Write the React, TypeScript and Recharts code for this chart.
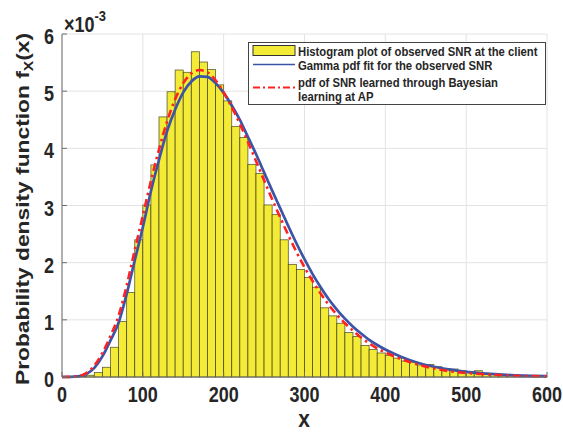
import React from "react";
import { Bar, CartesianGrid, ComposedChart, Legend, Line, XAxis, YAxis } from "recharts";

// histogram of observed SNR, bin width 10, values in units of 1e-3
const binCenters = [
  5, 15, 25, 35, 45, 55, 65, 75, 85, 95,
  105, 115, 125, 135, 145, 155, 165, 175, 185, 195,
  205, 215, 225, 235, 245, 255, 265, 275, 285, 295,
  305, 315, 325, 335, 345, 355, 365, 375, 385, 395,
  405, 415, 425, 435, 445, 455, 465, 475, 485, 495,
  505, 515, 525, 535, 545, 555, 565, 575, 585, 595,
];
const histDensity = [
  0, 0, 0.01, 0.03, 0.08, 0.17, 0.52, 0.97, 1.48, 2.4,
  3.01, 3.71, 4.55, 4.99, 5.37, 5.33, 5.69, 5.51, 5.38, 5.11,
  4.83, 4.38, 4.19, 3.72, 3.56, 3.01, 2.84, 2.4, 1.97, 1.88,
  1.74, 1.57, 1.21, 1.07, 0.94, 0.78, 0.71, 0.55, 0.48, 0.42,
  0.38, 0.33, 0.28, 0.26, 0.21, 0.22, 0.18, 0.15, 0.14, 0.11,
  0.08, 0.11, 0.06, 0.05, 0.04, 0.04, 0.03, 0.02, 0.02, 0.01,
];

const curveX = [
  0, 10, 20, 30, 40, 50, 60, 70, 80, 90,
  100, 110, 120, 130, 140, 150, 160, 170, 180, 190,
  200, 210, 220, 230, 240, 250, 260, 270, 280, 290,
  300, 310, 320, 330, 340, 350, 360, 370, 380, 390,
  400, 420, 440, 460, 480, 500, 520, 540, 560, 580, 600,
];
const gammaFit = [
  0, 0.002, 0.01, 0.05, 0.16, 0.36, 0.64, 0.95, 1.45, 2.04,
  2.62, 3.25, 3.8, 4.3, 4.68, 4.98, 5.17, 5.26, 5.25, 5.14,
  4.97, 4.75, 4.5, 4.2, 3.9, 3.58, 3.26, 2.95, 2.64, 2.34,
  2.06, 1.8, 1.57, 1.36, 1.18, 1.02, 0.88, 0.76, 0.65, 0.56,
  0.48, 0.35, 0.25, 0.18, 0.13, 0.09, 0.065, 0.045, 0.03, 0.02, 0.015,
];
const bayesPdf = [
  0, 0.003, 0.015, 0.07, 0.2, 0.42, 0.72, 1.07, 1.6, 2.22,
  2.82, 3.43, 3.98, 4.47, 4.86, 5.14, 5.31, 5.37, 5.33, 5.19,
  4.98, 4.72, 4.43, 4.11, 3.78, 3.44, 3.11, 2.79, 2.48, 2.19,
  1.92, 1.68, 1.46, 1.26, 1.09, 0.94, 0.81, 0.69, 0.59, 0.5,
  0.43, 0.31, 0.22, 0.15, 0.1, 0.07, 0.05, 0.035, 0.022, 0.015, 0.01,
];

const xTicks = [0, 100, 200, 300, 400, 500, 600];
const yTicks = [0, 1, 2, 3, 4, 5, 6];

const legendLabels = [
  "Histogram plot of observed SNR at the client",
  "Gamma pdf fit for the observed SNR",
  "pdf of SNR learned through Bayesian",
  "learning at AP",
];

const histRows = binCenters.map((x, i) => ({ x, h: histDensity[i] }));
const gammaRows = curveX.map((x, i) => ({ x, y: gammaFit[i] }));
const bayesRows = curveX.map((x, i) => ({ x, y: bayesPdf[i] }));

const FONT = "'Liberation Sans', Arial, sans-serif";
const AXIS = "#6f6f6f";
const INK = "#262626";
const YELLOW = "#f3eb35";
const BLUE = "#3b54a6";
const RED = "#ff2222";
const BIN_PX = 485 / 60; // plot width / number of bins

const txt = { fontFamily: FONT, fontWeight: 700, fill: INK } as const;

function HistBar(p: any) {
  if (!p.height) return null;
  const cx = p.x + p.width / 2;
  return (
    <rect
      x={cx - BIN_PX / 2}
      y={p.y}
      width={BIN_PX}
      height={p.height}
      fill={YELLOW}
      stroke="#2b2b14"
      strokeOpacity={0.75}
      strokeWidth={0.8}
    />
  );
}

function XTick(p: any) {
  return (
    <g transform={`translate(${p.x},402) scale(1,1.18)`}>
      <text x={0} y={0} textAnchor="middle" fontSize={18} style={txt}>
        {p.payload.value}
      </text>
    </g>
  );
}

function YTick(p: any) {
  return (
    <g transform={`translate(54,${p.y + 10}) scale(1,1.18)`}>
      <text x={0} y={0} textAnchor="end" fontSize={18} style={txt}>
        {p.payload.value}
      </text>
    </g>
  );
}

function XLabel() {
  return (
    <g>
      <g transform="translate(304,427) scale(1,1.18)">
        <text x={0} y={0} textAnchor="middle" fontSize={21} style={txt}>
          x
        </text>
      </g>
      <g transform="translate(64,32) scale(1,1.18)">
        <text x={0} y={0} fontSize={18} style={txt}>
          ×10
          <tspan fontSize={13} dy={-9}>-3</tspan>
        </text>
      </g>
    </g>
  );
}

function YLabel() {
  return (
    <g transform="translate(29,209) scale(1,1.2) rotate(-90)">
      <text x={0} y={0} textAnchor="middle" fontSize={19} style={txt}>
        Probability density function f
        <tspan fontSize={13} dy={4}>X</tspan>
        <tspan dy={-4}>(x)</tspan>
      </text>
    </g>
  );
}

function LegendBox() {
  const rows = [14, 28, 45, 59];
  return (
    <svg width={298} height={63} style={{ display: "block" }}>
      <rect x={0.5} y={0.5} width={297} height={62} fill="#fff" stroke="#444" />
      <rect x={5} y={3.5} width={42} height={10} fill={YELLOW} stroke="#333" />
      <line x1={5} x2={47} y1={22.5} y2={22.5} stroke={BLUE} strokeWidth={1.5} />
      <line x1={5} x2={47} y1={45.5} y2={45.5} stroke={RED} strokeWidth={2} strokeDasharray="7 3 2 3" />
      {legendLabels.map((s, i) => (
        <g key={s} transform={`translate(50,${rows[i]}) scale(1,1.15)`}>
          <text x={0} y={0} fontSize={11.3} style={txt}>
            {s}
          </text>
        </g>
      ))}
    </svg>
  );
}

export default function App() {
  return (
    <div style={{ position: "absolute", left: 0, top: 0, width: 563, height: 437, background: "#fff" }}>
      <ComposedChart
        width={563}
        height={437}
        data={histRows}
        margin={{ top: 34, right: 16, bottom: 0, left: 0 }}
        barCategoryGap={0}
        barGap={0}
      >
        <CartesianGrid xAxisId="b" yAxisId="l" stroke="#e3e3e3" />
        <Bar
          xAxisId="b"
          yAxisId="l"
          dataKey="h"
          fill={YELLOW}
          shape={HistBar}
          isAnimationActive={false}
        />
        <Line
          xAxisId="b"
          yAxisId="l"
          data={gammaRows}
          dataKey="y"
          type="monotone"
          stroke={BLUE}
          strokeWidth={2.7}
          dot={false}
          isAnimationActive={false}
        />
        <Line
          xAxisId="b"
          yAxisId="l"
          data={bayesRows}
          dataKey="y"
          type="monotone"
          stroke={RED}
          strokeWidth={2.6}
          strokeDasharray="8 4 2.5 4"
          dot={false}
          isAnimationActive={false}
        />
        <XAxis
          xAxisId="b"
          dataKey="x"
          type="number"
          domain={[0, 600]}
          ticks={xTicks}
          height={60}
          tickSize={-5}
          tick={XTick}
          axisLine={{ stroke: AXIS }}
          tickLine={{ stroke: AXIS }}
          label={<XLabel />}
        />
        <XAxis
          xAxisId="t"
          orientation="top"
          dataKey="x"
          type="number"
          domain={[0, 600]}
          ticks={xTicks}
          height={0}
          tickSize={-5}
          tick={false}
          axisLine={{ stroke: AXIS }}
          tickLine={{ stroke: AXIS }}
        />
        <YAxis
          yAxisId="l"
          type="number"
          domain={[0, 6]}
          ticks={yTicks}
          width={62}
          tickSize={-5}
          tick={YTick}
          axisLine={{ stroke: AXIS }}
          tickLine={{ stroke: AXIS }}
          label={<YLabel />}
        />
        <YAxis
          yAxisId="r"
          orientation="right"
          type="number"
          domain={[0, 6]}
          ticks={yTicks}
          width={0}
          tickSize={-5}
          tick={false}
          axisLine={{ stroke: AXIS }}
          tickLine={{ stroke: AXIS }}
        />
        <Legend
          layout="horizontal"
          verticalAlign="middle"
          content={<LegendBox />}
          wrapperStyle={{ position: "absolute", left: 248, top: 42, width: 298, height: 63 }}
        />
      </ComposedChart>
    </div>
  );
}
